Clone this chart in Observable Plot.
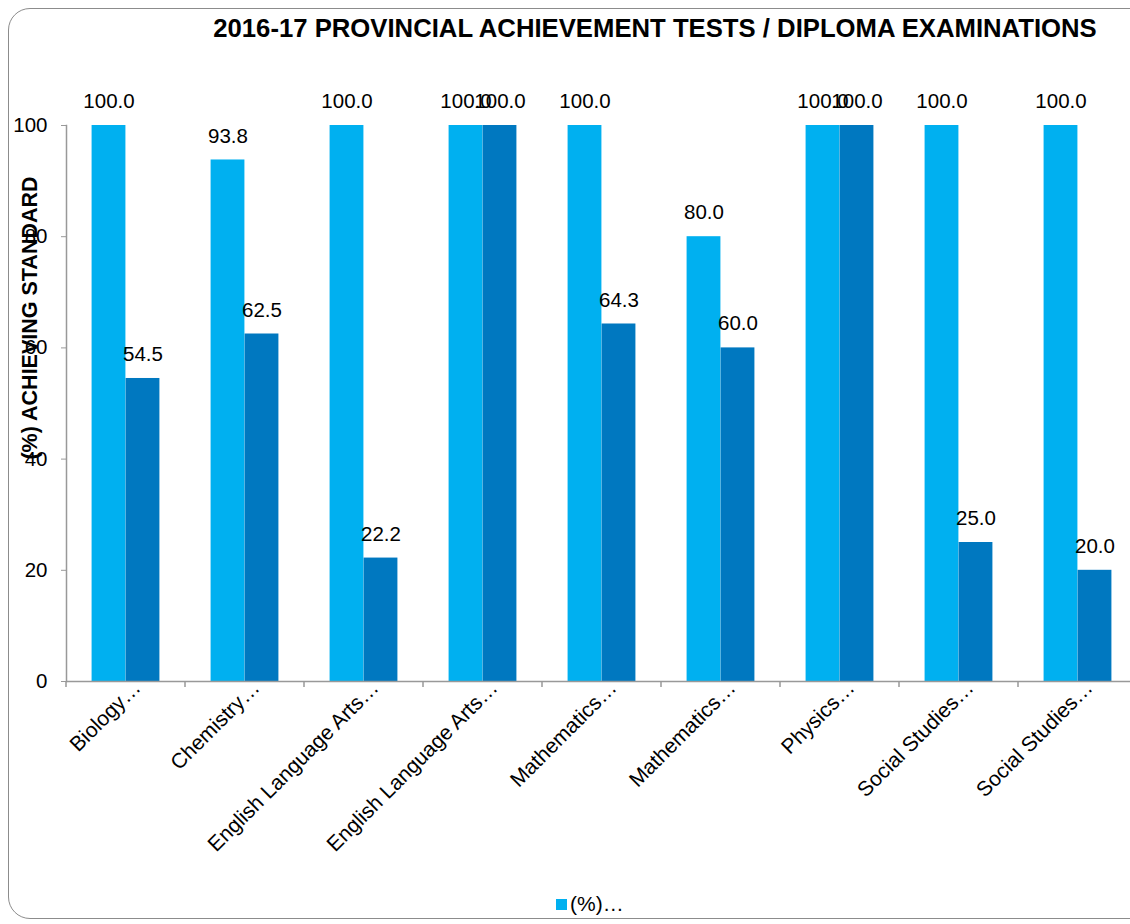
<!DOCTYPE html>
<html><head><meta charset="utf-8">
<script src="https://cdn.jsdelivr.net/npm/d3@7"></script>
<script src="https://cdn.jsdelivr.net/npm/@observablehq/plot@0.6"></script>
<style>
body{margin:0;background:#fff;overflow:hidden;font-family:Arial,"Liberation Sans",sans-serif;}
#wrap{position:relative;width:1130px;height:924px;overflow:hidden;}
#frame{position:absolute;left:8px;top:8px;width:1150px;height:911px;border:1.5px solid #8c8c8c;border-radius:22px;box-sizing:border-box;}
#title{position:absolute;top:16px;left:655px;transform:translateX(-50%);white-space:nowrap;font-weight:bold;font-size:25.7px;line-height:25px;color:#000;}
#ylabel{position:absolute;left:30px;top:318px;transform:translate(-50%,-50%) rotate(-90deg);white-space:nowrap;font-weight:bold;font-size:21.5px;color:#000;}
#chart{position:absolute;left:0;top:50px;}
#legend{position:absolute;top:892px;left:556px;font-size:21px;display:flex;align-items:center;white-space:nowrap;}
#legend .sw{width:11px;height:11px;background:#00B0F0;margin-right:3px;}
svg{overflow:visible}
</style></head>
<body>
<div id="wrap">
  <div id="frame"></div>
  <div id="title"></div>
  <div id="chart"></div>
  <div id="ylabel"></div>
  <div id="legend"><div class="sw"></div><span id="legtext"></span></div>
</div>
<script>
const title = "2016-17 PROVINCIAL ACHIEVEMENT TESTS / DIPLOMA EXAMINATIONS";
const yLabel = "(%) ACHIEVING STANDARD";
const categories = ["Biology…","Chemistry…","English Language Arts…","English Language Arts…","Mathematics…","Mathematics…","Physics…","Social Studies…","Social Studies…"];
const seriesA = [100.0, 93.8, 100.0, 100.0, 100.0, 80.0, 100.0, 100.0, 100.0];
const seriesB = [54.5, 62.5, 22.2, 100.0, 64.3, 60.0, 100.0, 25.0, 20.0];
const yTicks = [0, 20, 40, 60, 80, 100];
const legendLabel = "(%)…";
const colorA = "#00B0F0", colorB = "#0078C0";

document.getElementById("title").textContent = title;
document.getElementById("ylabel").textContent = yLabel;
document.getElementById("legtext").textContent = legendLabel;

const rowsA = categories.map((c, i) => ({i, v: seriesA[i]}));
const rowsB = categories.map((c, i) => ({i, v: seriesB[i]}));
const idx = categories.map((c, i) => i);
const font = 20.5;

const chart = Plot.plot({
  width: 1130,
  height: 800,
  marginLeft: 66,
  marginRight: -7,
  marginTop: 75,
  marginBottom: 169,
  style: {fontFamily: 'Arial, "Liberation Sans", sans-serif', color: "#000", background: "transparent"},
  x: {domain: idx, paddingInner: 0.43, paddingOuter: 0.215, round: false},
  y: {domain: [0, 100]},
  marks: [
    Plot.barY(rowsA, {x: "i", y: "v", fill: colorA, insetRight: 34}),
    Plot.barY(rowsB, {x: "i", y: "v", fill: colorB, insetLeft: 34}),
    Plot.text(rowsA, {x: "i", y: "v", text: d => d.v.toFixed(1), dx: -17, dy: -24, fontSize: font, fill: "#000"}),
    Plot.text(rowsB, {x: "i", y: "v", text: d => d.v.toFixed(1), dx: 17, dy: -24, fontSize: font, fill: "#000"}),
    Plot.axisY({ticks: yTicks, tickSize: 5, tickPadding: 14, fontSize: font, stroke: "#999", label: null}),
    Plot.axisX({tickRotate: -45, tickSize: 0, tickPadding: 3, dx: 11, tickFormat: i => categories[i], fontSize: 21, label: null}),
    Plot.frame({anchor: "left", stroke: "#999", strokeWidth: 1.5}),
    Plot.ruleY([0], {stroke: "#999", strokeWidth: 1.5})
  ]
});
document.getElementById("chart").appendChild(chart);

// boundary ticks on the category axis, from the band scale
const xs = chart.scale("x");
const ys = chart.scale("y");
const half = (xs.step - xs.bandwidth) / 2;
const bounds = idx.map(i => xs.apply(i) - half);
bounds.push(xs.apply(idx[idx.length - 1]) + xs.bandwidth + half);
const y0 = ys.apply(0);
d3.select(chart).append("g")
  .selectAll("line").data(bounds).join("line")
  .attr("x1", d => d).attr("x2", d => d)
  .attr("y1", y0).attr("y2", y0 + 6)
  .attr("stroke", "#999").attr("stroke-width", 1.5);
</script>
</body></html>
